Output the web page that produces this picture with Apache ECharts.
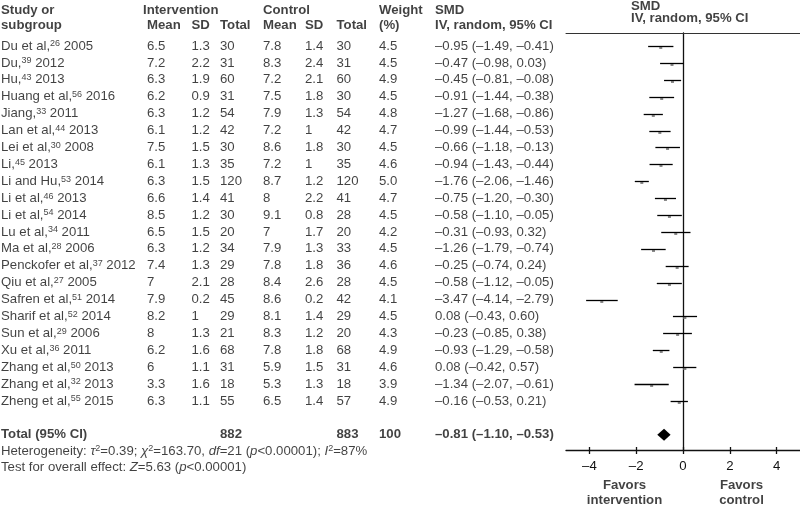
<!DOCTYPE html>
<html><head><meta charset="utf-8">
<script src="https://cdn.jsdelivr.net/npm/echarts@6/dist/echarts.min.js"></script>
<style>html,body{margin:0;padding:0;background:#fff}#c{width:800px;height:506px}</style>
</head><body><div id="c"></div>
<script>
// ---------------- data ----------------
const names = ['Du et al,','Du,','Hu,','Huang et al,','Jiang,','Lan et al,','Lei et al,','Li,','Li and Hu,','Li et al,','Li et al,','Lu et al,','Ma et al,','Penckofer et al,','Qiu et al,','Safren et al,','Sharif et al,','Sun et al,','Xu et al,','Zhang et al,','Zhang et al,','Zheng et al,'];
const refs = [26,39,43,56,33,44,30,45,53,46,54,34,28,37,27,51,52,29,36,50,32,55];
const years = [2005,2012,2013,2016,2011,2013,2008,2013,2014,2013,2014,2011,2006,2012,2005,2014,2014,2006,2011,2013,2013,2015];
const intMean = [6.5,7.2,6.3,6.2,6.3,6.1,7.5,6.1,6.3,6.6,8.5,6.5,6.3,7.4,7,7.9,8.2,8,6.2,6,3.3,6.3];
const intSD = [1.3,2.2,1.9,0.9,1.2,1.2,1.5,1.3,1.5,1.4,1.2,1.5,1.2,1.3,2.1,0.2,1,1.3,1.6,1.1,1.6,1.1];
const intN = [30,31,60,31,54,42,30,35,120,41,30,20,34,29,28,45,29,21,68,31,18,55];
const ctlMean = [7.8,8.3,7.2,7.5,7.9,7.2,8.6,7.2,8.7,8,9.1,7,7.9,7.8,8.4,8.6,8.1,8.3,7.8,5.9,5.3,6.5];
const ctlSD = [1.4,2.4,2.1,1.8,1.3,1,1.8,1,1.2,2.2,0.8,1.7,1.3,1.8,2.6,0.2,1.4,1.2,1.8,1.5,1.3,1.4];
const ctlN = [30,31,60,30,54,42,30,35,120,41,28,20,33,36,28,42,29,20,68,31,18,57];
const weight = [4.5,4.5,4.9,4.5,4.8,4.7,4.5,4.6,5.0,4.7,4.5,4.2,4.5,4.6,4.5,4.1,4.5,4.3,4.9,4.6,3.9,4.9];
const smd = [-0.95,-0.47,-0.45,-0.91,-1.27,-0.99,-0.66,-0.94,-1.76,-0.75,-0.58,-0.31,-1.26,-0.25,-0.58,-3.47,0.08,-0.23,-0.93,0.08,-1.34,-0.16];
const ciLow = [-1.49,-0.98,-0.81,-1.44,-1.68,-1.44,-1.18,-1.43,-2.06,-1.20,-1.10,-0.93,-1.79,-0.74,-1.12,-4.14,-0.43,-0.85,-1.29,-0.42,-2.07,-0.53];
const ciHigh = [-0.41,0.03,-0.08,-0.38,-0.86,-0.53,-0.13,-0.44,-1.46,-0.30,-0.05,0.32,-0.74,0.24,-0.05,-2.79,0.60,0.38,-0.58,0.57,-0.61,0.21];
const totalInt = 882, totalCtl = 883, totalWeight = 100;
const totalSMD = -0.81, totalLow = -1.10, totalHigh = -0.53;
const heterogeneity = 'Heterogeneity: {i|τ}{sup|2}=0.39; {i|χ}{sup|2}=163.70, {i|df}=21 ({i|p}<0.00001); {i|I}{sup|2}=87%';
const overallTest = 'Test for overall effect: {i|Z}=5.63 ({i|p}<0.00001)';
const xTicks = [-4,-2,0,2,4];
const xMin = -5, xMax = 5;

// ---------------- layout ----------------
const W = 800, H = 506;
const ROW0 = 46, ROWH = 16.9;              // pixel y of first study row, row pitch
const PLOT_L = 566, PLOT_TOP = 33, PLOT_AXIS = 450.5;
const TOTAL_ROW = 23;
const FONT = '"Liberation Sans", Arial, Helvetica, sans-serif';
const FS = 13.2;
const TXT = '#111';
const col = {study:1, inter:143, im:147, isd:191.5, itot:220, cm:263, csd:305, ctot:336.5, w:379, smd:435, plotHead:631};
const rowOf = px => (px - ROW0) / ROWH;
const xPix = v => PLOT_L + (v - xMin) / (xMax - xMin) * (W - PLOT_L);
const dash = s => String(s).replace(/-/g, '–');
const f2 = v => dash(v.toFixed(2));
const ci = (e,l,h) => `${f2(e)} (${f2(l)}, ${f2(h)})`;

const texts = [];
function T(x, row, text, bold, align) {
  texts.push({
    value: [x, row],
    label: { formatter: () => text, fontWeight: bold ? 'bold' : 'normal', align: align || 'left' }
  });
}
// headers
T(col.study, rowOf(10), 'Study or', true);
T(col.inter, rowOf(10), 'Intervention', true);
T(col.cm, rowOf(10), 'Control', true);
T(col.w, rowOf(10), 'Weight', true);
T(col.smd, rowOf(10), 'SMD', true);
T(col.study, rowOf(25), 'subgroup', true);
T(col.im, rowOf(25), 'Mean', true);
T(col.isd, rowOf(25), 'SD', true);
T(col.itot, rowOf(25), 'Total', true);
T(col.cm, rowOf(25), 'Mean', true);
T(col.csd, rowOf(25), 'SD', true);
T(col.ctot, rowOf(25), 'Total', true);
T(col.w, rowOf(25), '(%)', true);
T(col.smd, rowOf(25), 'IV, random, 95% CI', true);
T(col.plotHead, rowOf(6.5), 'SMD', true);
T(col.plotHead, rowOf(18), 'IV, random, 95% CI', true);
// study rows
names.forEach((n, i) => {
  T(col.study, i, `${n}{sup|${refs[i]}} ${years[i]}`);
  T(col.im, i, String(intMean[i]));
  T(col.isd, i, String(intSD[i]));
  T(col.itot, i, String(intN[i]));
  T(col.cm, i, String(ctlMean[i]));
  T(col.csd, i, String(ctlSD[i]));
  T(col.ctot, i, String(ctlN[i]));
  T(col.w, i, weight[i].toFixed(1));
  T(col.smd, i, ci(smd[i], ciLow[i], ciHigh[i]));
});
// total
T(col.study, TOTAL_ROW, 'Total (95% CI)', true);
T(col.itot, TOTAL_ROW, String(totalInt), true);
T(col.ctot, TOTAL_ROW, String(totalCtl), true);
T(col.w, TOTAL_ROW, String(totalWeight), true);
T(col.smd, TOTAL_ROW, ci(totalSMD, totalLow, totalHigh), true);
T(col.study, rowOf(451), heterogeneity);
T(col.study, rowOf(467.5), overallTest);
// favors
T(xPix(-2.5), rowOf(485.5), 'Favors', true, 'center');
T(xPix(-2.5), rowOf(500.5), 'intervention', true, 'center');
T(xPix(2.5), rowOf(485.5), 'Favors', true, 'center');
T(xPix(2.5), rowOf(500.5), 'control', true, 'center');

const rich = {
  sup: { fontSize: 9, verticalAlign: 'top', color: TXT, fontFamily: FONT },
  i: { fontStyle: 'italic', fontSize: FS, color: TXT, fontFamily: FONT }
};

const chart = echarts.init(document.getElementById('c'), null, { renderer: 'canvas' });
chart.setOption({
  animation: false,
  backgroundColor: '#fff',
  textStyle: { fontFamily: FONT, fontSize: FS, color: TXT },
  grid: [
    { left: PLOT_L, right: 0, top: PLOT_TOP, bottom: H - PLOT_AXIS, outerBoundsMode: 'none', containLabel: false },
    { left: 0, right: 0, top: 0, bottom: 0, outerBoundsMode: 'none', containLabel: false }
  ],
  xAxis: [
    { gridIndex: 0, type: 'value', min: xMin, max: xMax, position: 'bottom',
      axisLine: { show: true, onZero: false, lineStyle: { color: '#111', width: 1.3 } },
      axisTick: { show: true, inside: false, length: 3.5, customValues: xTicks, lineStyle: { color: '#111', width: 1.3 } },
      axisLabel: { show: true, customValues: xTicks, formatter: v => dash(v), color: TXT, fontSize: FS, margin: 9, fontFamily: FONT },
      splitLine: { show: false } },
    { gridIndex: 0, type: 'value', min: xMin, max: xMax, position: 'bottom',
      axisLine: { show: false, onZero: false },
      axisTick: { show: true, inside: true, length: 3.5, customValues: xTicks, lineStyle: { color: '#111', width: 1.3 } },
      axisLabel: { show: false }, splitLine: { show: false } },
    { gridIndex: 0, type: 'value', min: xMin, max: xMax, position: 'top',
      axisLine: { show: true, onZero: false, lineStyle: { color: '#333', width: 1 } },
      axisTick: { show: false }, axisLabel: { show: false }, splitLine: { show: false } },
    { gridIndex: 1, type: 'value', min: 0, max: W, show: false }
  ],
  yAxis: [
    { gridIndex: 0, type: 'value', inverse: true, min: rowOf(PLOT_TOP), max: rowOf(PLOT_AXIS),
      axisLine: { show: true, onZero: true, onZeroAxisIndex: 0, lineStyle: { color: '#111', width: 1.3 } },
      axisTick: { show: false }, axisLabel: { show: false }, splitLine: { show: false } },
    { gridIndex: 1, type: 'value', inverse: true, min: rowOf(0), max: rowOf(H), show: false }
  ],
  series: [
    {
      type: 'custom', xAxisIndex: 0, yAxisIndex: 0,
      data: smd.map((v, i) => [v, ciLow[i], ciHigh[i], i]),
      encode: { x: [0, 1, 2], y: 3 },
      renderItem: (params, api) => {
        const row = api.value(3);
        const a = api.coord([api.value(1), row]);
        const b = api.coord([api.value(2), row]);
        const c = api.coord([api.value(0), row]);
        const y = Math.round(c[1]) + 0.5;
        return { type: 'group', children: [
          { type: 'rect', shape: { x: c[0] - 1.5, y: y, width: 3, height: 2.5 }, style: { fill: '#8a8a8a' } },
          { type: 'line', shape: { x1: a[0], y1: y, x2: b[0], y2: y }, style: { stroke: '#000', lineWidth: 1.3 } }
        ] };
      }
    },
    {
      type: 'custom', xAxisIndex: 0, yAxisIndex: 0,
      data: [[totalSMD, totalLow, totalHigh, TOTAL_ROW]],
      encode: { x: [0, 1, 2], y: 3 },
      renderItem: (params, api) => {
        const row = api.value(3);
        const a = api.coord([api.value(1), row]);
        const b = api.coord([api.value(2), row]);
        const c = api.coord([api.value(0), row]);
        const h = 6;
        return { type: 'polygon', shape: { points: [[a[0], a[1]], [c[0], c[1] - h], [b[0], b[1]], [c[0], c[1] + h]] },
                 style: { fill: '#000' } };
      }
    },
    {
      type: 'scatter', xAxisIndex: 3, yAxisIndex: 1,
      symbolSize: 0, itemStyle: { color: 'transparent' }, silent: true,
      label: { show: true, position: [0, 0], verticalAlign: 'middle', color: TXT, fontSize: FS, fontFamily: FONT, rich: rich },
      data: texts
    }
  ]
});
</script></body></html>
